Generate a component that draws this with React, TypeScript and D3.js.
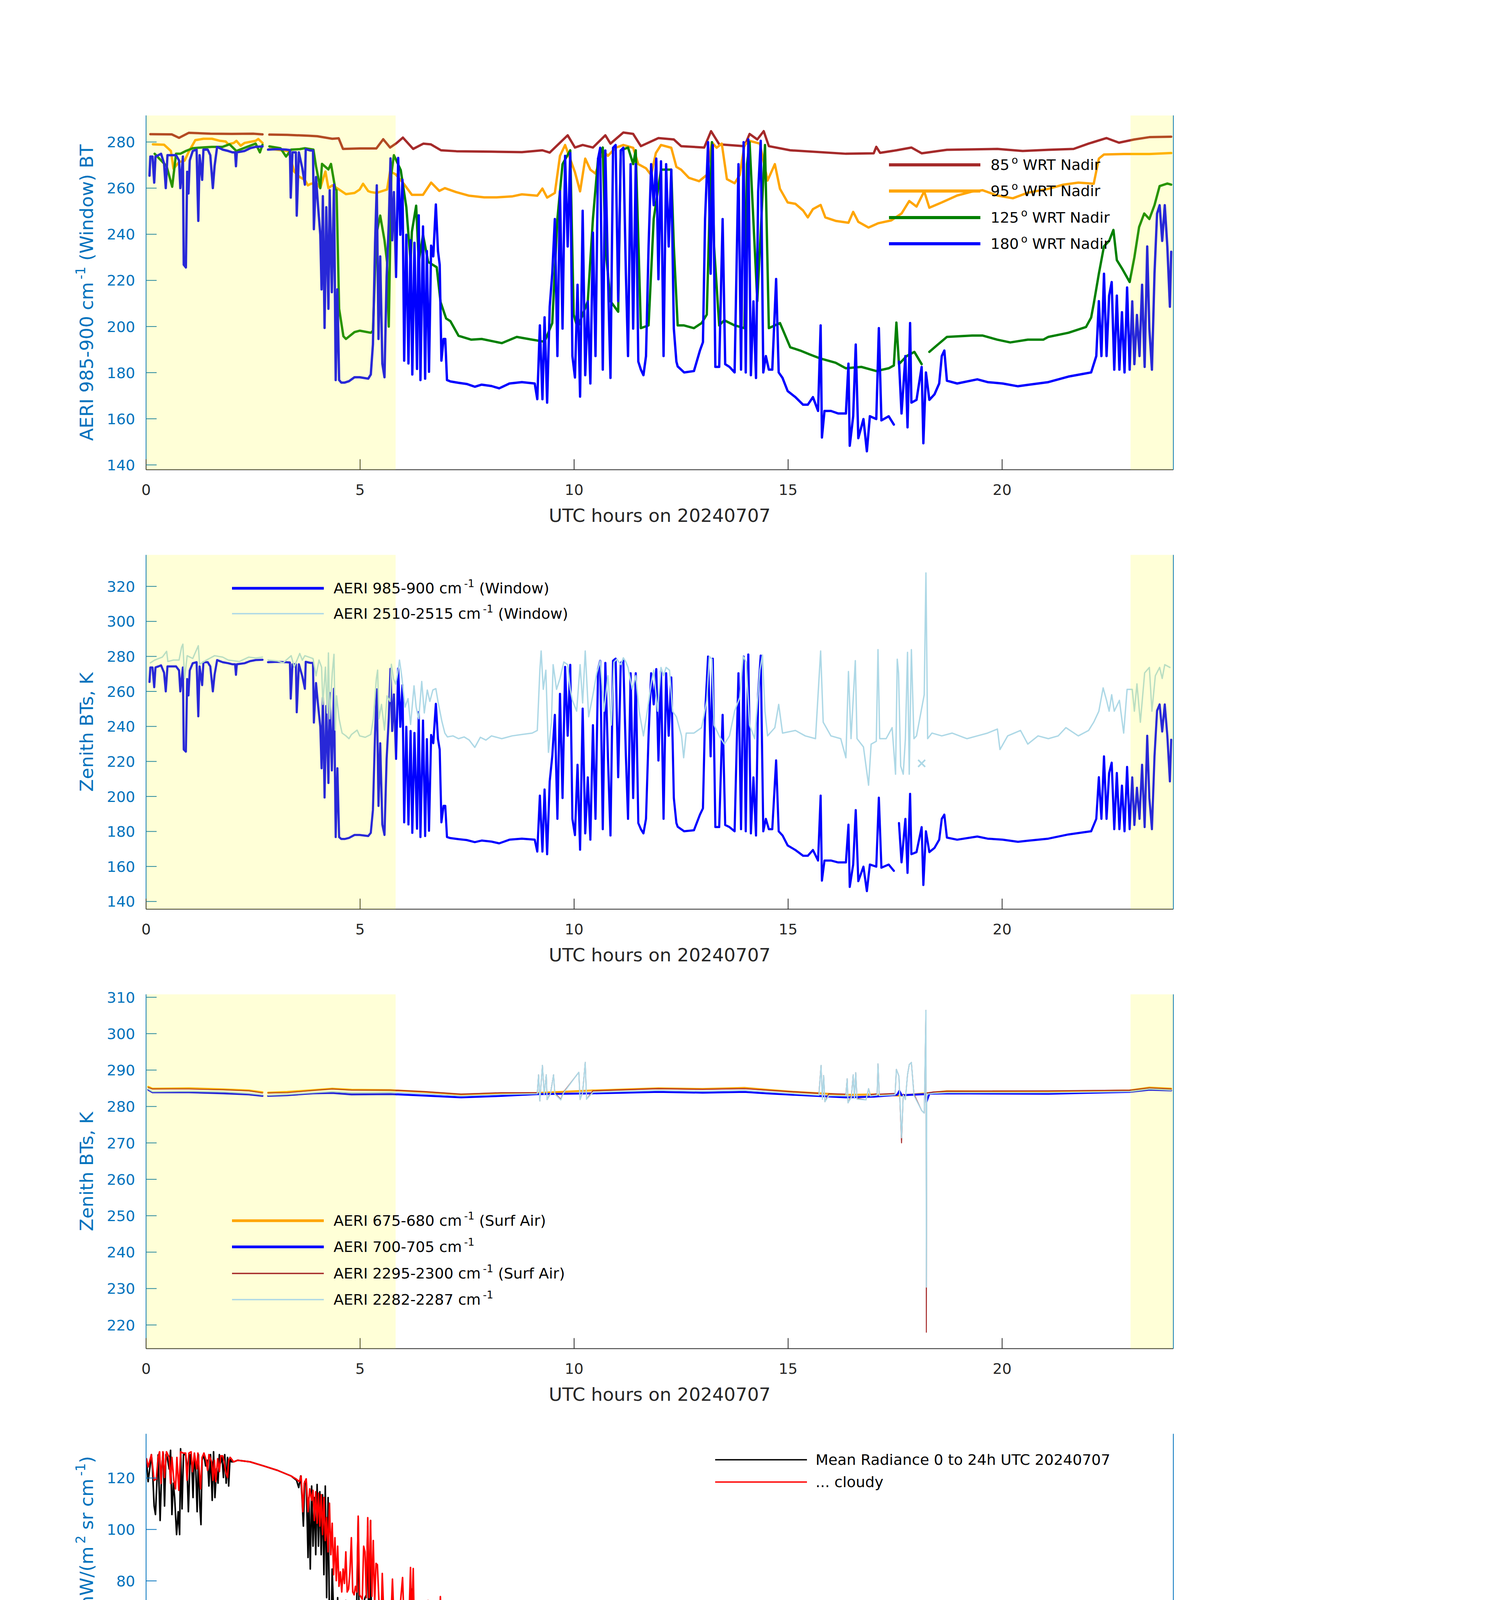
import React from 'react';
import * as d3 from 'd3';

type P = [number, number];
const G = NaN;

// ---------- Panel 1 : BT at four scan angles (UTC hours, K) ----------
const brown85: P[] = [[0.1,283.4],[0.6,283.3],[0.77,281.8],[1.0,284.0],[1.5,283.6],[2.0,283.5],[2.5,283.6],[2.72,283.3],[2.73,G],[2.88,283.2],[3.3,283.1],[3.8,282.7],[4.0,282.5],[4.35,281.4],[4.5,281.6],[4.6,277.0],[5.0,277.2],[5.38,277.2],[5.54,281.2],[5.7,277.6],[5.85,279.5],[6.0,281.9],[6.24,277.0],[6.48,279.3],[6.65,279.0],[6.89,276.4],[7.25,276.0],[8.07,275.8],[8.78,275.6],[9.26,276.4],[9.43,275.4],[9.85,282.9],[10.02,277.6],[10.2,278.7],[10.44,277.6],[10.73,282.9],[10.85,279.3],[11.15,284.1],[11.38,283.5],[11.56,278.2],[11.97,281.7],[12.33,281.1],[12.5,278.2],[13.04,277.6],[13.2,284.7],[13.39,279.0],[13.98,278.2],[14.1,283.5],[14.28,281.1],[14.43,284.7],[14.55,278.2],[15.05,276.4],[16.35,274.9],[17.0,275.1],[17.06,277.9],[17.15,275.3],[17.53,276.4],[17.88,277.6],[18.12,275.1],[18.71,276.6],[19.89,277.0],[20.48,276.1],[21.08,276.6],[21.67,277.0],[22.02,279.3],[22.44,281.7],[22.73,279.7],[23.09,281.1],[23.44,282.1],[23.95,282.3]];

const orange95: P[] = [[0.16,279.0],[0.42,278.8],[0.58,276.1],[0.64,268.4],[0.77,271.3],[0.9,271.9],[0.99,275.5],[1.15,280.8],[1.34,281.4],[1.54,281.4],[1.73,280.5],[1.86,280.2],[1.92,279.0],[2.05,279.6],[2.11,280.5],[2.21,278.4],[2.3,279.6],[2.56,280.5],[2.62,281.3],[2.72,279.6],[2.73,G],[2.88,277.0],[3.0,276.8],[3.33,276.0],[3.46,267.2],[3.59,264.8],[3.71,263.6],[3.78,261.2],[3.84,261.8],[3.97,262.4],[4.07,260.0],[4.19,267.2],[4.26,260.0],[4.35,261.2],[4.51,259.4],[4.67,257.4],[4.87,257.9],[4.99,259.4],[5.07,261.9],[5.19,258.7],[5.25,258.3],[5.38,257.9],[5.63,259.4],[5.7,267.2],[5.83,266.0],[6.02,261.9],[6.21,257.1],[6.47,257.1],[6.66,262.4],[6.85,258.8],[6.98,260.0],[7.24,258.3],[7.55,256.7],[7.9,256.0],[8.19,256.0],[8.55,256.4],[8.78,257.3],[9.14,256.7],[9.26,259.8],[9.37,255.9],[9.55,257.9],[9.67,274.0],[9.79,278.7],[10.02,266.9],[10.14,258.6],[10.26,272.8],[10.38,268.0],[10.5,266.3],[10.67,276.3],[10.79,274.0],[10.97,277.5],[11.15,278.7],[11.38,277.5],[11.5,270.4],[11.68,268.6],[11.8,265.7],[11.91,275.2],[12.03,278.7],[12.27,277.5],[12.39,269.2],[12.5,268.0],[12.68,264.5],[12.92,263.0],[13.1,265.7],[13.22,279.9],[13.33,277.5],[13.45,279.3],[13.57,263.9],[13.75,262.1],[13.87,265.7],[13.98,278.7],[14.1,280.5],[14.22,279.9],[14.34,279.3],[14.52,263.3],[14.69,270.4],[14.81,259.7],[14.99,253.8],[15.17,253.2],[15.35,250.3],[15.46,247.3],[15.58,250.9],[15.76,252.7],[15.87,247.3],[16.11,245.8],[16.41,245.0],[16.52,249.7],[16.64,245.4],[16.88,242.9],[17.11,244.8],[17.41,246.0],[17.65,249.0],[17.83,254.4],[18.0,252.0],[18.18,258.6],[18.3,251.5],[18.59,253.8],[18.95,256.8],[19.3,258.5],[19.54,259.1],[19.89,256.8],[20.25,255.6],[20.6,258.0],[21.08,259.7],[21.43,261.5],[21.78,262.4],[22.14,261.9],[22.26,272.8],[22.38,274.6],[22.85,274.8],[23.44,274.8],[23.95,275.2]];

const green125: P[] = [[0.2,274.9],[0.48,269.5],[0.61,260.6],[0.7,274.9],[0.8,274.9],[0.93,276.1],[1.09,277.3],[1.28,277.6],[1.54,277.9],[1.79,277.9],[1.95,279.0],[2.11,276.1],[2.43,278.4],[2.56,279.3],[2.66,275.5],[2.72,278.8],[2.73,G],[2.88,278.1],[3.14,277.3],[3.27,273.7],[3.39,276.7],[3.59,276.9],[3.71,277.3],[3.91,276.7],[3.97,269.5],[4.07,260.0],[4.11,270.5],[4.26,268.1],[4.32,270.5],[4.42,259.7],[4.45,259.1],[4.51,207.7],[4.61,195.8],[4.67,194.6],[4.87,197.6],[4.99,198.2],[5.25,197.3],[5.3,198.2],[5.38,239.8],[5.47,248.1],[5.57,237.4],[5.63,228.0],[5.67,200.0],[5.73,266.0],[5.79,274.3],[5.95,267.8],[6.08,251.8],[6.18,228.0],[6.21,241.1],[6.31,252.4],[6.37,228.0],[6.47,239.8],[6.59,228.0],[6.79,225.7],[6.88,210.6],[7.01,203.5],[7.11,202.3],[7.3,196.0],[7.6,194.3],[7.84,194.6],[8.31,192.8],[8.66,195.5],[9.02,194.3],[9.31,193.4],[9.49,201.5],[9.61,246.7],[9.73,270.4],[9.91,276.4],[9.99,205.2],[10.08,199.3],[10.32,211.0],[10.44,246.7],[10.56,272.8],[10.67,277.6],[10.73,234.7],[10.85,211.0],[11.03,206.4],[11.09,276.4],[11.26,277.6],[11.38,270.4],[11.44,276.4],[11.56,199.3],[11.74,200.5],[11.86,246.7],[12.03,268.0],[12.27,268.0],[12.33,234.7],[12.42,200.5],[12.56,200.5],[12.8,199.3],[12.98,201.5],[13.1,205.2],[13.16,246.7],[13.22,279.9],[13.27,234.7],[13.39,200.5],[13.51,202.7],[13.75,200.5],[13.98,199.3],[14.04,270.4],[14.1,279.9],[14.28,211.0],[14.46,278.7],[14.55,199.3],[14.81,201.5],[15.05,191.0],[15.28,189.6],[15.52,187.8],[15.76,186.1],[16.11,184.3],[16.35,181.9],[16.71,182.5],[17.06,180.7],[17.35,181.9],[17.47,183.1],[17.53,201.7],[17.59,183.7],[17.77,187.2],[17.95,189.0],[18.12,183.7],[18.13,G],[18.3,189.0],[18.48,191.9],[18.71,195.5],[19.3,196.1],[19.54,196.1],[19.89,194.3],[20.19,193.1],[20.6,194.3],[20.96,194.3],[21.08,195.5],[21.55,197.3],[21.96,199.8],[22.08,203.9],[22.14,209.8],[22.26,222.9],[22.38,234.8],[22.5,237.1],[22.6,241.9],[22.68,228.8],[22.8,225.2],[22.98,219.3],[23.09,230.0],[23.2,243.1],[23.32,249.0],[23.44,246.6],[23.56,252.6],[23.68,260.9],[23.86,262.0],[23.95,261.5]];

// zenith (180 deg) window BT, shared by panels 1 and 2
const blueWindow: P[] = [[0.08,265.4],[0.1,273.7],[0.15,273.7],[0.19,262.4],[0.22,273.7],[0.29,274.3],[0.35,274.9],[0.42,270.7],[0.46,260.0],[0.5,274.3],[0.58,274.3],[0.7,274.3],[0.77,272.0],[0.8,260.0],[0.86,273.7],[0.88,226.8],[0.93,225.6],[0.96,267.1],[0.99,257.7],[1.02,272.0],[1.09,276.1],[1.18,276.7],[1.22,245.8],[1.25,274.3],[1.31,263.6],[1.34,276.7],[1.44,276.7],[1.5,274.3],[1.56,260.0],[1.6,269.5],[1.66,277.9],[1.79,276.7],[1.92,276.1],[2.02,275.5],[2.08,275.5],[2.1,269.5],[2.12,275.5],[2.3,276.1],[2.43,277.3],[2.56,277.9],[2.72,278.1],[2.73,G],[2.85,276.7],[3.07,276.9],[3.27,276.7],[3.36,276.5],[3.38,255.9],[3.42,275.5],[3.5,275.5],[3.52,248.1],[3.57,275.5],[3.65,268.6],[3.71,261.5],[3.73,276.9],[3.84,276.3],[3.9,276.3],[3.92,242.2],[3.97,264.8],[4.02,251.7],[4.07,239.8],[4.1,216.1],[4.13,256.5],[4.17,199.4],[4.21,251.7],[4.26,207.7],[4.29,259.1],[4.34,214.9],[4.39,261.5],[4.43,176.8],[4.47,216.1],[4.51,176.8],[4.56,175.7],[4.64,175.7],[4.74,176.3],[4.87,178.0],[4.99,178.0],[5.19,177.4],[5.25,179.2],[5.3,192.3],[5.35,236.3],[5.39,261.2],[5.43,194.6],[5.47,230.4],[5.52,183.9],[5.57,178.0],[5.62,221.5],[5.67,244.6],[5.71,272.9],[5.75,237.4],[5.79,258.3],[5.84,221.5],[5.89,273.1],[5.94,239.8],[5.99,263.6],[6.03,185.2],[6.08,239.8],[6.13,184.0],[6.18,237.4],[6.22,179.2],[6.27,236.3],[6.33,181.6],[6.37,248.2],[6.41,176.8],[6.47,243.4],[6.52,177.4],[6.56,232.7],[6.61,180.4],[6.66,235.1],[6.71,230.4],[6.77,252.9],[6.82,232.7],[6.86,226.8],[6.9,185.2],[6.95,194.6],[6.99,194.6],[7.03,176.8],[7.11,176.2],[7.3,175.6],[7.49,175.1],[7.68,173.9],[7.84,174.8],[8.07,174.2],[8.25,173.2],[8.49,175.3],[8.78,175.9],[9.08,175.3],[9.14,168.5],[9.2,200.5],[9.26,168.5],[9.31,204.0],[9.37,167.0],[9.43,208.6],[9.49,223.0],[9.55,246.6],[9.61,187.2],[9.67,258.6],[9.73,199.1],[9.79,274.0],[9.85,234.7],[9.91,275.2],[9.96,187.2],[10.02,177.9],[10.08,218.1],[10.14,169.6],[10.2,250.2],[10.26,178.9],[10.32,210.9],[10.38,175.3],[10.44,240.7],[10.5,187.2],[10.56,272.8],[10.61,277.5],[10.67,181.3],[10.73,276.3],[10.79,222.9],[10.85,177.7],[10.91,277.5],[10.97,278.7],[11.03,211.0],[11.09,276.3],[11.15,277.5],[11.21,222.9],[11.26,187.2],[11.32,270.4],[11.38,199.1],[11.44,270.4],[11.5,184.8],[11.56,181.3],[11.62,178.9],[11.68,187.2],[11.74,234.7],[11.8,270.4],[11.86,252.6],[11.92,272.8],[11.97,220.5],[12.03,271.6],[12.09,187.2],[12.15,270.4],[12.21,234.7],[12.27,268.0],[12.33,199.1],[12.39,184.8],[12.42,182.7],[12.57,180.1],[12.8,180.7],[12.94,189.6],[13.01,193.2],[13.06,246.6],[13.13,279.9],[13.19,222.9],[13.24,278.7],[13.3,182.5],[13.39,182.5],[13.47,246.6],[13.53,183.7],[13.63,182.5],[13.75,180.1],[13.84,270.4],[13.9,181.3],[13.96,279.9],[14.01,180.1],[14.07,281.1],[14.13,178.9],[14.19,210.9],[14.25,177.7],[14.3,258.5],[14.36,280.5],[14.42,180.1],[14.48,187.2],[14.55,181.3],[14.63,181.3],[14.72,220.6],[14.78,180.1],[14.87,177.7],[14.99,172.0],[15.17,169.4],[15.35,166.1],[15.46,166.1],[15.58,169.4],[15.7,163.4],[15.76,200.5],[15.79,151.9],[15.85,163.4],[16.0,163.4],[16.17,162.3],[16.35,162.3],[16.41,183.9],[16.44,148.3],[16.52,161.1],[16.58,192.2],[16.64,151.6],[16.76,159.9],[16.84,145.9],[16.91,161.1],[17.06,159.9],[17.12,199.3],[17.18,159.3],[17.35,161.1],[17.47,157.5],[17.5,G],[17.59,184.8],[17.65,162.3],[17.74,187.2],[17.79,156.3],[17.85,201.5],[17.88,167.0],[18.0,168.2],[18.12,182.5],[18.16,149.4],[18.22,180.1],[18.3,168.2],[18.42,170.6],[18.53,175.3],[18.59,187.2],[18.65,189.6],[18.71,176.5],[18.95,175.3],[19.42,177.1],[19.66,175.9],[20.01,175.3],[20.37,174.1],[20.6,174.7],[21.08,175.9],[21.55,178.3],[21.9,179.5],[22.08,180.1],[22.2,187.2],[22.26,211.0],[22.32,187.2],[22.38,222.9],[22.44,187.2],[22.5,213.4],[22.56,219.3],[22.62,181.3],[22.68,213.4],[22.74,181.3],[22.8,206.2],[22.86,180.1],[22.92,216.9],[22.98,181.3],[23.04,210.9],[23.09,183.7],[23.15,205.0],[23.21,187.2],[23.27,218.1],[23.33,182.5],[23.39,234.7],[23.44,199.1],[23.5,181.3],[23.56,222.9],[23.62,249.0],[23.68,252.6],[23.74,237.1],[23.8,252.6],[23.86,234.7],[23.92,208.6],[23.95,232.4]];

// ---------- Panel 2 : 2510-2515 window ----------
const lightWindow: P[] = [[0.1,276.3],[0.2,277.9],[0.38,279.6],[0.48,282.9],[0.51,277.1],[0.64,277.9],[0.77,277.9],[0.83,285.3],[0.86,287.0],[0.9,267.3],[0.96,280.4],[1.09,278.8],[1.22,286.1],[1.25,275.5],[1.41,277.9],[1.6,280.4],[1.79,279.6],[1.92,277.9],[2.18,277.1],[2.4,279.6],[2.56,279.1],[2.72,279.6],[2.73,G],[2.85,277.9],[3.07,277.4],[3.2,276.3],[3.39,280.4],[3.46,273.9],[3.59,281.7],[3.65,277.9],[3.71,280.4],[3.9,278.8],[3.97,268.9],[4.04,277.9],[4.1,273.9],[4.13,252.6],[4.19,273.9],[4.23,247.7],[4.26,282.0],[4.29,244.4],[4.35,270.5],[4.39,281.2],[4.42,237.9],[4.45,257.5],[4.51,244.4],[4.55,239.5],[4.58,236.2],[4.67,234.6],[4.74,233.0],[4.8,235.4],[4.93,237.9],[4.99,234.6],[5.12,233.8],[5.25,235.4],[5.31,244.4],[5.38,267.3],[5.41,272.2],[5.44,244.4],[5.5,252.6],[5.57,237.9],[5.63,257.5],[5.7,254.3],[5.73,275.5],[5.78,267.3],[5.83,264.1],[5.88,270.5],[5.92,277.9],[5.98,267.3],[6.05,251.0],[6.12,255.9],[6.18,241.1],[6.26,263.2],[6.31,251.0],[6.37,244.4],[6.44,265.7],[6.5,247.7],[6.57,260.8],[6.63,254.3],[6.7,260.8],[6.77,261.6],[6.82,254.3],[6.91,243.0],[6.98,236.2],[7.04,234.0],[7.17,234.6],[7.3,233.0],[7.43,234.0],[7.55,232.2],[7.68,228.0],[7.81,233.8],[7.94,232.2],[8.07,234.6],[8.31,233.0],[8.55,234.6],[8.78,235.4],[9.02,236.2],[9.14,237.7],[9.2,272.1],[9.23,283.1],[9.28,261.2],[9.34,272.1],[9.4,225.2],[9.47,242.4],[9.51,275.3],[9.59,261.2],[9.67,267.4],[9.76,276.8],[9.85,275.3],[9.91,261.2],[9.96,254.9],[10.06,248.7],[10.14,275.3],[10.2,253.4],[10.26,283.1],[10.34,245.5],[10.44,258.1],[10.53,270.6],[10.61,277.6],[10.7,248.7],[10.79,269.0],[10.87,240.8],[10.93,276.8],[11.0,278.4],[11.09,275.3],[11.15,279.2],[11.21,276.8],[11.26,273.7],[11.36,261.2],[11.44,269.0],[11.52,248.7],[11.62,234.6],[11.71,248.7],[11.8,264.3],[11.86,272.1],[11.95,248.7],[12.03,273.7],[12.09,269.0],[12.15,273.7],[12.23,272.1],[12.3,248.7],[12.39,245.5],[12.51,234.6],[12.56,222.1],[12.62,236.2],[12.8,236.2],[12.98,239.3],[13.1,254.9],[13.16,280.0],[13.22,278.4],[13.27,240.8],[13.39,234.6],[13.51,229.9],[13.63,234.6],[13.75,248.7],[13.87,256.5],[13.95,280.0],[14.02,276.8],[14.1,240.8],[14.22,233.0],[14.34,272.1],[14.4,280.8],[14.46,248.7],[14.52,234.6],[14.69,239.3],[14.78,252.6],[14.87,236.2],[15.17,237.7],[15.4,234.6],[15.64,233.0],[15.76,283.1],[15.82,242.4],[16.0,234.6],[16.23,233.0],[16.35,222.1],[16.41,271.4],[16.47,233.0],[16.57,277.6],[16.61,233.0],[16.76,228.3],[16.88,206.4],[16.94,229.9],[17.06,231.5],[17.1,283.9],[17.14,233.0],[17.29,233.0],[17.43,239.3],[17.51,212.7],[17.55,278.4],[17.58,270.6],[17.63,217.4],[17.69,212.7],[17.74,233.0],[17.79,282.3],[17.83,212.7],[17.88,283.9],[17.94,233.0],[18.0,234.6],[18.18,258.1],[18.22,327.7],[18.26,233.0],[18.36,236.2],[18.59,234.6],[18.83,236.2],[19.18,233.0],[19.42,234.6],[19.66,236.2],[19.89,238.5],[19.95,226.8],[20.13,234.6],[20.43,237.7],[20.6,229.9],[20.84,234.6],[21.08,233.0],[21.31,234.6],[21.49,239.3],[21.78,234.6],[22.02,237.7],[22.14,242.4],[22.26,248.7],[22.36,262.0],[22.44,254.9],[22.5,248.7],[22.56,258.1],[22.62,248.7],[22.74,254.9],[22.84,236.2],[22.92,261.2],[23.04,261.2],[23.09,248.7],[23.15,264.3],[23.23,242.4],[23.33,270.6],[23.44,273.7],[23.5,248.7],[23.58,269.0],[23.68,273.7],[23.74,267.4],[23.8,275.3],[23.92,273.7]];
const lightWindowMarker: P[] = [[18.12,218.9]];

// ---------- Panel 3 : surface-air channels ----------
const orange675: P[] = [[0.05,285.4],[0.15,284.9],[1.0,285.0],[1.8,284.7],[2.4,284.4],[2.72,283.9],[2.73,G],[2.85,283.8],[3.3,284.0],[3.9,284.5],[4.35,284.9],[4.8,284.6],[5.71,284.5],[6.5,284.0],[7.36,283.3],[8.3,283.6],[9.14,283.7],[10.44,284.4],[11.97,285.0],[13.0,284.8],[13.98,285.1],[14.5,284.6],[15.17,284.0],[16.35,283.2],[17.0,283.3],[17.6,283.0],[18.22,283.6],[18.71,284.2],[21.08,284.1],[22.98,284.4],[23.44,285.2],[23.95,284.9]];
const blue700: P[] = [[0.05,284.6],[0.15,283.9],[1.0,283.9],[1.8,283.6],[2.4,283.3],[2.72,282.9],[2.73,G],[2.85,282.9],[3.3,283.1],[3.9,283.6],[4.35,283.7],[4.8,283.3],[5.71,283.4],[6.5,283.0],[7.36,282.5],[8.3,282.9],[9.14,283.4],[10.44,283.6],[11.97,284.0],[13.0,283.8],[13.98,284.0],[14.5,283.6],[15.17,283.2],[16.35,282.5],[17.0,282.7],[17.55,283.2],[17.6,284.3],[17.65,283.1],[18.22,283.4],[18.23,281.2],[18.3,283.5],[18.71,283.6],[21.08,283.5],[22.98,284.0],[23.44,284.6],[23.95,284.4]];
const brown2295: P[] = [[0.05,285.2],[0.15,284.8],[1.0,284.8],[1.8,284.6],[2.4,284.3],[2.72,283.7],[2.73,G],[2.85,283.7],[3.3,283.8],[3.9,284.4],[4.35,284.8],[4.8,284.5],[5.5,284.5],[5.71,284.5],[6.5,284.1],[7.36,283.4],[8.3,283.8],[9.14,283.8],[9.17,288.7],[9.2,281.5],[9.26,291.3],[9.3,283.5],[9.35,288.7],[9.37,281.9],[9.45,283.7],[9.52,288.7],[9.55,283.6],[9.69,282.0],[9.75,283.9],[10.11,289.4],[10.14,281.9],[10.2,284.0],[10.26,292.1],[10.29,282.0],[10.44,284.3],[11.97,284.9],[13.0,284.7],[13.98,284.9],[14.5,284.5],[15.17,284.0],[15.72,283.6],[15.77,291.3],[15.8,282.0],[15.83,288.5],[15.86,281.3],[15.95,283.5],[16.35,283.4],[16.38,287.6],[16.4,281.0],[16.48,283.0],[16.52,288.7],[16.55,282.5],[16.58,289.3],[16.61,282.2],[16.82,281.8],[16.88,284.9],[16.92,283.2],[17.08,283.5],[17.1,291.7],[17.13,283.4],[17.5,283.6],[17.53,290.2],[17.59,288.3],[17.65,270.0],[17.69,283.4],[17.74,281.9],[17.79,288.7],[17.83,291.5],[17.88,292.1],[17.94,283.4],[18.12,278.9],[18.18,278.2],[18.22,306.4],[18.23,218.0],[18.24,283.7],[18.4,284.0],[18.71,284.2],[21.08,284.3],[22.98,284.5],[23.44,285.1],[23.95,284.8]];
const light2282: P[] = [[0.05,284.8],[0.15,284.1],[1.0,284.2],[1.8,284.0],[2.4,283.6],[2.72,283.2],[2.73,G],[2.85,283.1],[3.3,283.3],[3.9,283.8],[4.35,284.1],[4.8,283.8],[5.71,283.9],[6.5,283.5],[7.36,282.9],[8.3,283.3],[9.14,283.5],[9.17,288.7],[9.2,281.5],[9.26,291.3],[9.3,283.3],[9.35,288.7],[9.37,281.9],[9.45,283.5],[9.52,288.7],[9.55,283.4],[9.69,281.8],[9.75,283.7],[10.11,289.4],[10.14,281.9],[10.2,283.8],[10.26,292.1],[10.29,282.0],[10.44,283.9],[11.97,284.4],[13.0,284.2],[13.98,284.4],[14.5,284.0],[15.17,283.5],[15.72,283.1],[15.77,291.3],[15.8,282.0],[15.83,288.5],[15.86,281.3],[15.95,283.0],[16.35,282.9],[16.38,287.6],[16.4,281.0],[16.48,282.6],[16.52,288.7],[16.55,282.2],[16.58,289.3],[16.61,282.0],[16.82,281.8],[16.88,284.9],[16.92,282.9],[17.08,283.1],[17.1,291.7],[17.13,283.0],[17.5,283.2],[17.53,290.2],[17.59,288.3],[17.65,271.4],[17.69,283.1],[17.74,281.9],[17.79,288.7],[17.83,291.5],[17.88,292.1],[17.94,283.0],[18.12,278.9],[18.18,278.2],[18.22,306.4],[18.23,230.4],[18.24,283.4],[18.4,283.6],[18.71,283.8],[21.08,283.8],[22.98,284.1],[23.44,284.8],[23.95,284.5]];

// ---------- Panel 4 : mean radiance 520-1800 cm-1 ----------
const meanLW: P[] = [[520.5,126.9],[522.5,118.6],[525,124.7],[526.6,129.1],[528,123.5],[530,109.1],[531.7,105.8],[533.4,117.9],[535,129.0],[537.5,103.5],[539.6,124.7],[541.3,129.7],[543,109.1],[544.7,129.1],[546.4,128.0],[548.8,123.5],[550.5,130.8],[552.2,105.8],[554,118.0],[555.6,112.4],[558,98.0],[560,106.9],[561.8,98.0],[563,131.4],[564.8,108.0],[566.6,129.1],[569.3,129.1],[571,124.7],[572.7,106.9],[575,129.1],[577,124.7],[578.5,112.4],[580.2,129.1],[582,122.5],[583.6,106.9],[585.3,129.1],[587,109.1],[588.4,101.9],[589.8,126.9],[592,129.1],[594.2,124.7],[596.6,126.9],[598.3,116.9],[600.3,129.1],[602.4,111.3],[604.1,130.2],[605.8,112.4],[607.8,123.6],[609.6,118.0],[611.3,129.1],[612.6,125.8],[614.7,128.0],[616.4,120.2],[618,129.1],[619.8,118.0],[621.5,128.0],[622.9,116.9],[624.6,128.0],[626.3,126.3],[629,126.3],[634,126.9],[649.5,126.3],[666.6,124.7],[683.6,123.0],[700.7,120.8],[707.5,119.1],[710.2,116.3],[712.6,120.8],[714.3,112.4],[716,101.3],[717.7,118.6],[719.5,119.1],[721.8,89.1],[722.9,112.4],[724.6,84.6],[726.3,116.9],[728,93.5],[729.7,112.4],[731.4,90.2],[733.1,117.5],[734.8,93.5],[736.5,114.7],[738.2,90.2],[739.9,113.5],[741.6,82.4],[743.3,116.9],[745,73.5],[746.8,112.4],[748.5,64.6],[750.2,53.4],[751.9,84.6],[753.6,67.9],[755.3,51.2],[757,44.5],[758.7,73.5],[760.4,42.3],[762.1,49.0],[763.8,40.1],[765.5,53.4],[767.2,42.3],[768.9,72.4],[770.6,42.3],[772.3,47.9],[774,39.0],[775.8,55.3],[777.5,39.0],[779.5,60.0],[780.9,40.1],[782.6,73.5],[784.3,104.6],[786,40.1],[787.7,38.4],[789.4,41.2],[791.1,71.3],[792.8,73.5],[794.5,74.6],[796.2,101.3],[797.9,43.4],[799.7,103.5],[801.4,40.1],[803.1,36.7],[804.8,70.1],[806.5,36.7],[808.2,65.7],[810.6,35.6],[813.3,37.8],[814.3,63.5],[816,36.7],[820.1,35.0],[823.5,34.0],[825.3,46.8],[827,61.2],[828.7,34.5],[833.8,33.4],[835.5,36.7],[837.2,33.4],[839.6,63.5],[841.3,33.4],[847.4,31.7],[849.1,47.9],[850.8,63.5],[851.9,76.9],[853.6,62.4],[854.9,27.8],[857.7,30.0],[861.1,32.3],[865.2,50.1],[866.9,30.0],[871.3,52.9],[873,29.5],[878.2,48.4],[879.9,27.8],[883.3,40.1],[885,27.2],[886.7,55.7],[888.4,26.1],[891.8,31.2],[895.2,26.7],[898.6,26.1],[905.5,28.3],[907.2,23.4],[908.9,51.8],[910.6,25.6],[914,33.4],[915.7,25.0],[918.1,30.0],[919.1,23.9],[921.5,42.3],[922.5,25.6],[924.9,34.5],[926.6,24.5],[932.2,24.8],[936.2,25.6],[944.7,24.5],[947.9,42.3],[950,23.7],[962,22.7],[969.5,22.7],[975,30.3],[977,21.6],[984.4,20.5],[991.8,19.4],[999.3,21.6],[1006.7,22.7],[1010.4,30.3],[1014.2,46.6],[1016,24.8],[1021.6,25.9],[1029,33.5],[1032.8,27.0],[1038.4,29.2],[1041,32.5],[1043.2,19.4],[1045.8,24.8],[1049.5,33.5],[1053.3,31.4],[1057,33.5],[1060.7,29.2],[1064.4,27.0],[1066.3,53.2],[1068,16.1],[1071.8,15.0],[1074.5,33.5],[1076,15.0],[1084.9,13.9],[1091.2,45.5],[1093,13.9],[1101.7,43.4],[1103.5,12.8],[1106.1,43.4],[1108,12.8],[1111.7,44.4],[1113.3,13.9],[1121.4,31.4],[1123,13.9],[1135.9,33.5],[1137.5,13.9],[1144.5,12.8],[1150.1,44.4],[1152,12.8],[1165,44.4],[1167,12.8],[1174.3,44.4],[1176,11.8],[1186.6,49.9],[1188,11.8],[1197.8,11.8],[1210.9,44.4],[1212.5,13.9],[1218.3,41.2],[1221,18.3],[1224.6,45.5],[1226.5,11.8],[1230.9,10.7],[1235.7,27.0],[1239.4,18.3],[1244,41.2],[1246,16.1],[1250.6,22.7],[1256.2,18.3],[1260,40.1],[1263.7,24.8],[1267.4,37.9],[1271.1,37.9],[1274.8,22.7],[1276.7,27.0],[1280.4,36.8],[1284.2,21.6],[1287.8,36.8],[1291.5,22.7],[1295.3,33.5],[1300.9,34.6],[1304.6,33.5],[1310.2,34.0],[1319.6,33.5],[1325.1,21.6],[1329,22.7],[1333.5,31.4],[1338.2,31.4],[1343,30.0],[1351.2,30.3],[1361,29.5],[1374,28.6],[1383,27.5],[1400,26.2],[1417,25.0],[1419.6,19.9],[1421,24.8],[1437,23.8],[1456.5,22.5],[1456.9,19.4],[1458,22.4],[1469.6,21.6],[1472,19.4],[1474,21.4],[1506.5,18.8],[1507,16.2],[1509,18.7],[1522,17.9],[1522.5,15.2],[1524,17.8],[1539,17.2],[1540,28.6],[1541,17.1],[1556.5,16.3],[1559,12.0],[1561,16.1],[1576,15.3],[1577,24.2],[1578,15.2],[1600,13.5],[1616.5,12.7],[1635,11.8],[1636,9.4],[1638,11.7],[1652,11.2],[1652.5,23.2],[1653,5.0],[1654,11.0],[1669.5,10.1],[1670,7.2],[1671,10.0],[1684.8,9.5],[1685,5.5],[1686,9.4],[1699,9.0],[1717,8.3],[1717.5,26.0],[1718,8.2],[1732.6,7.6],[1733,5.0],[1734,7.6],[1752,6.9],[1774,6.0],[1791,5.4],[1791.5,3.6],[1792,5.4],[1800,5.4]];

const cloudyLW: P[] = [[520.5,127.5],[522.5,124.3],[526.6,129.1],[530,119.1],[532.7,119.6],[535,128.0],[536.8,130.2],[538.6,117.9],[541,130.2],[543,120.2],[545.4,130.2],[548.8,128.0],[550.5,117.9],[552.2,128.0],[554.6,119.1],[556.7,115.8],[558.4,128.0],[560.8,115.2],[563.1,130.2],[565.9,129.7],[569.3,129.7],[571,119.1],[573.4,129.7],[576.1,130.2],[577.8,122.5],[580.2,129.7],[583,123.6],[584.6,129.7],[588,115.8],[589.8,128.0],[592.1,129.7],[594.9,126.9],[596.6,123.0],[598.3,129.1],[601.7,126.3],[603.4,119.1],[605.1,126.9],[606.8,118.6],[609.2,127.5],[611.3,122.5],[613,128.6],[615.4,128.6],[617.4,126.3],[619.5,121.9],[621.5,120.2],[622.9,126.9],[624.9,128.0],[629,126.3],[634,126.9],[649.5,126.3],[666.6,124.7],[683.6,123.0],[700.7,120.8],[707.5,119.5],[710.9,118.6],[713.2,120.8],[715.4,106.9],[717.1,118.0],[719.5,119.7],[721.8,106.9],[723.9,115.8],[726.3,111.3],[728,115.2],[729.7,103.5],[731.4,114.7],[733.1,102.4],[734.8,114.1],[736.5,101.3],[738.2,113.5],[739.9,98.0],[741.6,112.4],[743.3,95.7],[745,104.6],[746.8,91.3],[748.5,110.2],[750.2,90.2],[751.9,102.4],[753.6,82.4],[755.3,96.8],[757,80.1],[758.7,93.5],[760.4,77.9],[762.1,83.5],[763.8,75.7],[765.5,84.6],[767.2,79.0],[768.9,91.3],[770.6,75.7],[772.3,76.8],[774,83.5],[775.8,96.8],[777.5,75.7],[779.2,74.6],[780.9,77.9],[782.6,75.7],[784.3,105.2],[786,74.6],[789.4,72.9],[791.1,93.5],[792.8,91.3],[794.5,73.5],[796.2,104.6],[797.9,73.5],[799.7,103.5],[801.4,74.0],[803.1,95.7],[804.8,71.3],[806.5,86.8],[808.2,86.3],[810.6,69.0],[813.3,69.5],[814.3,82.9],[816,68.5],[820.1,67.9],[825.3,66.8],[827,80.7],[828.7,66.3],[835.5,66.3],[839.6,81.3],[841.3,65.1],[847.4,63.5],[849.5,85.2],[850.8,63.5],[852.9,84.8],[854.2,61.2],[859.3,61.0],[865.2,71.6],[866.9,60.6],[871.3,72.4],[873,59.5],[878.2,69.4],[879.9,57.9],[883.3,64.6],[885,57.3],[886.7,73.9],[888.4,56.8],[898.6,55.7],[907.2,54.6],[908.9,68.4],[910.6,53.4],[918.1,54.0],[921.5,61.8],[922.5,52.4],[924.9,57.3],[926.6,51.8],[936.2,50.7],[944.7,49.0],[947.1,49.9],[948.2,59.7],[949.5,48.8],[958.3,47.7],[962,46.6],[969.5,46.6],[973.2,45.5],[976.2,51.0],[978.8,44.4],[990,42.7],[999.3,42.3],[1008.6,42.7],[1010.4,46.6],[1014.2,55.3],[1016,44.4],[1021.6,44.4],[1027.2,44.4],[1029,48.8],[1032.8,44.4],[1038.4,43.4],[1041,40.1],[1043.2,39.0],[1045.8,44.4],[1051.4,45.5],[1055.1,43.4],[1058.8,44.4],[1060.7,40.1],[1063.3,37.9],[1065.5,54.2],[1067.5,35.7],[1073.7,35.7],[1074.5,45.1],[1075.8,34.6],[1084.9,33.5],[1091.2,45.5],[1093,32.5],[1099.8,33.5],[1101.7,44.0],[1103.5,32.5],[1106.1,44.4],[1108,32.5],[1111.7,46.6],[1113.3,31.4],[1121.4,47.7],[1123,31.4],[1133.3,30.3],[1135.9,52.1],[1137.5,30.3],[1144.5,29.2],[1150.1,41.2],[1152,28.1],[1165,44.4],[1167,28.1],[1174.3,49.9],[1176,28.1],[1186.6,49.9],[1188,27.0],[1197.8,44.9],[1199.5,27.0],[1204.1,25.9],[1210.9,44.4],[1212.5,25.9],[1218.3,41.2],[1221,27.0],[1224.6,44.4],[1226.5,27.0],[1230.2,23.8],[1237.6,32.5],[1241.3,24.8],[1244,41.2],[1246,27.0],[1250.6,29.2],[1253.2,33.5],[1256.2,31.4],[1260,39.0],[1263.7,33.0],[1267.4,39.0],[1271.1,39.0],[1272,30.0],[1276.7,31.4],[1280.4,37.4],[1284.2,27.0],[1287.8,36.8],[1291.5,29.2],[1295.3,33.5],[1300.9,35.7],[1304.6,33.5],[1310.2,34.6],[1319.6,34.6],[1325.1,28.1],[1329,32.0],[1332.6,29.0],[1338.2,31.4],[1343.8,30.3],[1351.2,31.4],[1361,30.6],[1374,29.5],[1383,28.6],[1400,26.9],[1417,25.8],[1437,25.0],[1437.5,29.5],[1438,24.9],[1469.6,22.1],[1513,18.9],[1539,17.3],[1540,27.4],[1541,17.2],[1556.5,16.2],[1576,15.2],[1577,24.2],[1578,15.1],[1600,14.1],[1616.5,13.5],[1617,19.4],[1617.5,13.4],[1643.5,12.5],[1652,12.2],[1652.5,22.1],[1653,12.0],[1687,10.8],[1695,10.6],[1695.5,18.5],[1696,10.5],[1699,10.4],[1699.5,16.9],[1700,10.3],[1717,9.7],[1717.5,16.3],[1718,9.6],[1752,8.4],[1774,7.9],[1800,7.2]];

// ---------- Panel 5 : mean radiance 1800-3020 cm-1 ----------
const meanSW: P[] = [[1800.7,7.8],[1801,7.55],[1803.3,7.7],[1804.9,7.35],[1806.5,7.5],[1808,7.7],[1809.7,7.35],[1811.4,7.45],[1813,7.35],[1814.6,7.0],[1816.3,6.9],[1817.9,7.2],[1819.5,6.75],[1821.1,6.98],[1822.8,7.1],[1824.4,7.0],[1826,6.97],[1829.3,6.93],[1832.5,6.8],[1834.2,6.7],[1835.8,6.75],[1839,6.58],[1842.3,6.6],[1843.9,6.68],[1845.5,6.5],[1848.8,6.45],[1850.4,6.2],[1852,6.0],[1853.7,6.3],[1855.3,5.6],[1856.9,6.1],[1858.5,6.28],[1860.2,6.1],[1861.8,5.7],[1863.4,6.05],[1866.7,6.12],[1869.9,5.95],[1873.2,5.55],[1874.8,5.15],[1876.4,5.5],[1878,4.68],[1879.7,5.6],[1881.3,4.6],[1882.9,4.8],[1884.6,5.3],[1886.2,5.7],[1887.8,5.3],[1889.4,5.68],[1891.1,5.52],[1892.7,5.3],[1895,5.5],[1896.9,5.0],[1899.2,4.3],[1900.8,3.88],[1902.4,4.9],[1904.1,4.5],[1905.7,5.3],[1907.3,4.6],[1908.9,5.3],[1910.6,5.15],[1912.2,4.85],[1913.8,4.45],[1915.4,4.88],[1918.7,5.12],[1920.3,4.9],[1922,5.0],[1923.6,5.0],[1925.2,4.6],[1926.8,3.72],[1928.5,3.22],[1930.1,3.0],[1931.7,3.4],[1933.3,4.75],[1935,3.6],[1936.6,3.0],[1938.2,3.7],[1939.8,4.4],[1942.1,4.68],[1944.7,4.58],[1946.3,4.6],[1948,3.9],[1949.6,2.85],[1951.2,3.3],[1952.8,2.41],[1955.1,4.5],[1956.7,3.6],[1958.4,2.34],[1960,2.78],[1962,4.17],[1963.6,2.63],[1965.9,4.3],[1967.8,4.1],[1970.7,2.12],[1973,1.68],[1975,1.75],[1976.3,2.56],[1977.6,1.53],[1979.5,1.46],[1981.5,1.75],[1983.7,1.9],[1986.3,2.78],[1988.6,4.03],[1990.2,3.44],[1992.5,3.95],[1995.1,2.56],[1996.7,1.97],[1999,3.88],[2000.6,1.39],[2002.3,1.39],[2004.2,1.24],[2006.5,1.83],[2008.1,2.42],[2009.7,1.39],[2011.4,1.53],[2013,1.24],[2016.3,3.44],[2017.9,3.51],[2019.5,1.83],[2021.1,1.39],[2022.8,1.46],[2024.4,1.31],[2027.6,1.09],[2029.3,1.02],[2031,0.98],[2033.5,2.71],[2035.8,1.09],[2037.4,2.85],[2039,1.09],[2040.7,2.56],[2042,2.34],[2043.9,2.12],[2045.5,0.87],[2047.2,1.61],[2048.8,1.02],[2050.4,0.95],[2052,1.61],[2053.7,1.02],[2056.9,1.17],[2060.2,2.93],[2061.8,0.91],[2064.4,3.0],[2066.7,1.39],[2068.3,0.91],[2071.5,1.39],[2073.2,2.63],[2074.8,1.09],[2077.1,2.56],[2079,0.95],[2081.3,0.73],[2082.9,1.39],[2086.2,1.02],[2089.4,2.71],[2091.1,0.73],[2093.3,1.24],[2095.9,0.73],[2099.2,0.8],[2101.8,0.65],[2104.1,0.69],[2107.3,0.65],[2110.6,0.73],[2114.5,1.53],[2116.1,0.65],[2118.7,0.62],[2122,1.09],[2125.2,0.65],[2128.5,0.87],[2131.7,0.58],[2135,1.24],[2138.2,0.54],[2141.5,0.58],[2144.7,1.17],[2146.3,0.58],[2149.6,0.54],[2152.8,0.95],[2154.5,0.54],[2157.7,0.54],[2161.6,1.09],[2163.2,0.58],[2167.5,0.62],[2174,0.58],[2177.2,0.65],[2180.5,0.95],[2183.7,1.09],[2187,1.17],[2190.2,1.13],[2196.7,1.2],[2200,1.25],[2207,1.3],[2214,1.3],[2221,1.3],[2223,0.95],[2225,1.1],[2228,1.4],[2235.5,1.48],[2242.6,1.46],[2256.7,1.45],[2271,1.38],[2285,1.32],[2299,1.24],[2313.5,1.18],[2327.7,1.12],[2342,1.06],[2356,1.03],[2370,0.98],[2381,0.95],[2386,0.8],[2390,0.57],[2393,0.43],[2398.6,0.36],[2416,0.29],[2434,0.25],[2457,0.21],[2469.5,0.2],[2498,0.15],[2540,0.14],[2600,0.12],[2639,0.14],[2640,0.11],[2664,0.1],[2720,0.12],[2722,0.1],[2800,0.08],[2871,0.05],[2954,0.04],[2996,0.02],[3020,0.05]];

const cloudySW: P[] = [[1800.7,8.28],[1801,7.62],[1803.3,7.76],[1804.9,7.4],[1806.5,7.58],[1808,7.76],[1809.7,7.4],[1811.4,7.51],[1813,7.4],[1814.6,7.1],[1816.3,6.96],[1817.9,7.25],[1819.5,6.81],[1821.1,7.03],[1822.8,7.18],[1824.4,7.07],[1826,7.03],[1829.3,7.0],[1832.5,6.88],[1834.2,6.74],[1835.8,6.81],[1839,6.63],[1842.3,6.66],[1843.9,6.74],[1845.5,6.55],[1848.8,6.52],[1850.4,6.26],[1852,6.08],[1853.7,6.33],[1855.3,5.78],[1856.9,6.15],[1858.5,6.33],[1860.2,6.15],[1861.8,5.78],[1863.4,6.08],[1866.7,6.15],[1869.9,6.0],[1873.2,5.64],[1874.8,5.34],[1876.4,5.64],[1878,4.98],[1879.7,5.71],[1881.3,4.91],[1882.9,4.98],[1884.6,5.34],[1886.2,5.75],[1887.8,5.34],[1889.4,5.71],[1891.1,5.56],[1892.7,5.34],[1895,5.56],[1896.9,5.12],[1899.2,4.61],[1900.8,4.39],[1902.4,5.05],[1904.1,4.68],[1905.7,5.34],[1907.3,4.68],[1908.9,5.34],[1910.6,5.2],[1912.2,4.91],[1913.8,4.54],[1915.4,4.91],[1918.7,5.16],[1920.3,4.94],[1922,5.05],[1923.6,5.05],[1925.2,4.76],[1926.8,4.1],[1928.5,3.66],[1930.1,3.58],[1931.7,4.03],[1933.3,4.79],[1935,4.1],[1936.6,3.58],[1938.2,4.03],[1939.8,4.47],[1942.1,4.72],[1944.7,4.61],[1946.3,4.65],[1948,4.17],[1949.6,3.29],[1951.2,3.66],[1952.8,3.07],[1955.1,4.54],[1956.7,4.03],[1958.4,3.07],[1960,3.0],[1962,4.35],[1963.6,3.29],[1965.9,4.32],[1967.8,4.24],[1970.7,2.85],[1974,2.49],[1976.3,3.88],[1977.6,2.34],[1979.5,2.93],[1981.1,2.42],[1982.8,2.86],[1984.4,2.57],[1986.3,3.29],[1988.6,3.99],[1990.2,3.51],[1992.5,3.95],[1995.1,2.93],[1996.7,2.56],[1999,3.88],[2000.6,2.27],[2002.3,2.2],[2004.2,2.27],[2006.5,2.78],[2008.1,3.59],[2009.1,2.78],[2011.4,2.2],[2013,2.27],[2016.3,3.44],[2017.9,3.51],[2019.5,2.56],[2021.1,1.83],[2022.8,2.71],[2024.4,1.83],[2027,1.91],[2029.3,1.83],[2031.5,1.91],[2033.5,2.74],[2035.8,1.83],[2037.4,2.85],[2039,1.91],[2040.7,3.29],[2042,3.07],[2043.9,2.78],[2045.5,1.75],[2047.2,2.12],[2048.8,1.97],[2050.4,1.75],[2053.7,2.12],[2056.9,2.12],[2060.2,2.96],[2061.8,1.83],[2064.4,3.0],[2066,1.83],[2068.3,1.61],[2071.5,2.12],[2073.2,2.63],[2074.8,1.61],[2077.1,2.6],[2079,1.61],[2081.3,2.71],[2082.9,1.53],[2086.2,1.53],[2089.4,2.78],[2091.1,1.46],[2093.3,2.12],[2095.9,1.46],[2097.6,2.12],[2100.8,2.16],[2102.4,1.39],[2105.7,1.46],[2109,1.39],[2112.2,1.31],[2114.5,2.34],[2116.1,1.31],[2118.7,1.24],[2122,1.39],[2125.2,1.24],[2128.5,1.24],[2131.7,1.17],[2135,1.83],[2136.6,1.97],[2138.2,1.17],[2141.5,1.17],[2144.7,1.9],[2146.3,1.17],[2149.6,1.14],[2152.8,1.61],[2154.5,1.09],[2157.7,1.14],[2161.6,1.75],[2163.2,1.09],[2167.5,1.06],[2174,1.09],[2180.5,1.39],[2183.7,1.24],[2187,1.5],[2190.2,1.31],[2193.5,1.46],[2196.7,1.39],[2200,1.43],[2207,1.38],[2214,1.36],[2221,1.32],[2223,1.0],[2225,1.15],[2228,1.43],[2235.5,1.5],[2242.6,1.47],[2256.7,1.46],[2271,1.39],[2285,1.33],[2299,1.25],[2313.5,1.19],[2327.7,1.13],[2342,1.07],[2356,1.04],[2370,0.99],[2381,0.96],[2386,0.86],[2390,0.67],[2393,0.57],[2398.6,0.53],[2416,0.46],[2434,0.41],[2457,0.36],[2469.5,0.34],[2498,0.30],[2505,0.29],[2540,0.26],[2600,0.23],[2664,0.20],[2720,0.18],[2800,0.12],[2871,0.09],[2954,0.07],[3020,0.07]];

// ---------- axes ----------
const hourTicks = [0, 5, 10, 15, 20];
const wnTicksLW = [600, 800, 1000, 1200, 1400, 1600, 1800];
const wnTicksSW = [1800, 2000, 2200, 2400, 2600, 2800, 3000];
const btTicks1 = [140, 160, 180, 200, 220, 240, 260, 280];
const btTicks2 = [140, 160, 180, 200, 220, 240, 260, 280, 300, 320];
const btTicks3 = [220, 230, 240, 250, 260, 270, 280, 290, 300, 310];
const radTicksLW = [0, 20, 40, 60, 80, 100, 120];
const radTicksSW = [0, 1, 2, 3, 4, 5, 6, 7, 8];
const nightHours: P[] = [[0, 5.83], [23.0, 24]];

const L = 374, R = 3004, H = 907;
const FONT = 'DejaVu Sans, Verdana, sans-serif';
const AXB = '#0072BD';
const AXD = '#262626';
const TICK_FS = 38, LABEL_FS = 47, LEG_FS = 38;

type Seg = { t: string; sup?: boolean };

function Rich({ segs, fs }: { segs: Seg[]; fs: number }) {
  const out: any[] = [];
  let shifted = false;
  segs.forEach((s, i) => {
    if (s.sup) {
      out.push(<tspan key={i} fontSize={fs * 0.7} dx={fs * 0.15} dy={-fs * 0.42}>{s.t}</tspan>);
      shifted = true;
    } else {
      out.push(<tspan key={i} fontSize={fs} dy={shifted ? fs * 0.42 : 0}>{s.t}</tspan>);
      shifted = false;
    }
  });
  return <>{out}</>;
}

type Series = { data: P[]; color: string; width: number };
type LegRow = { y: number; color: string; width: number; segs: Seg[] };

interface PanelProps {
  id: string;
  top: number;
  xDomain: [number, number];
  yDomain: [number, number];
  xTicks: number[];
  yTicks: number[];
  series: Series[];
  markers?: { data: P[]; color: string }[];
  ylabel: Seg[];
  ylabelX: number;
  xlabel: Seg[];
  xlabelDy: number;
  shade?: P[];
  legX: [number, number, number];
  legend: LegRow[];
}

function Panel(p: PanelProps) {
  const bottom = p.top + H;
  const x = d3.scaleLinear().domain(p.xDomain).range([L, R]);
  const y = d3.scaleLinear().domain(p.yDomain).range([bottom, p.top]);
  const line = d3.line<P>().defined(d => !isNaN(d[1])).x(d => x(d[0])).y(d => y(d[1]));
  return (
    <g>
      <clipPath id={p.id}><rect x={L} y={p.top} width={R - L} height={H} /></clipPath>
      <g clipPath={`url(#${p.id})`}>
        {p.series.map((s, i) => (
          <path key={i} d={line(s.data) || ''} fill="none" stroke={s.color} strokeWidth={s.width} strokeLinejoin="round" strokeLinecap="round" />
        ))}
        {(p.markers || []).map((m, i) => m.data.map((d, j) => {
          const cx = x(d[0]), cy = y(d[1]), r = 9;
          return <path key={`${i}-${j}`} d={`M${cx - r},${cy - r}L${cx + r},${cy + r}M${cx - r},${cy + r}L${cx + r},${cy - r}`} stroke={m.color} strokeWidth={4} />;
        }))}
      </g>
      <line x1={L} y1={bottom} x2={R} y2={bottom} stroke={AXD} strokeWidth={2} />
      <line x1={L} y1={p.top} x2={L} y2={bottom} stroke={AXB} strokeWidth={2} />
      <line x1={R} y1={p.top} x2={R} y2={bottom} stroke={AXB} strokeWidth={2} />
      {p.xTicks.map(t => (
        <g key={`x${t}`}>
          <line x1={x(t)} x2={x(t)} y1={bottom} y2={bottom - 27} stroke={AXD} strokeWidth={2} />
          <text x={x(t)} y={bottom + 64} textAnchor="middle" fontSize={TICK_FS} fill={AXD} fontFamily={FONT}>{t}</text>
        </g>
      ))}
      {p.yTicks.map(t => (
        <g key={`y${t}`}>
          <line x1={L} x2={L + 27} y1={y(t)} y2={y(t)} stroke={AXB} strokeWidth={2} />
          <text x={L - 28} y={y(t)} dy="0.36em" textAnchor="end" fontSize={TICK_FS} fill={AXB} fontFamily={FONT}>{t}</text>
        </g>
      ))}
      <text transform={`translate(${p.ylabelX},${p.top + H / 2}) rotate(-90)`} textAnchor="middle" fill={AXB} fontFamily={FONT} fontSize={LABEL_FS}>
        <Rich segs={p.ylabel} fs={LABEL_FS} />
      </text>
      <text x={(L + R) / 2} y={bottom + p.xlabelDy} textAnchor="middle" fill={AXD} fontFamily={FONT} fontSize={LABEL_FS}>
        <Rich segs={p.xlabel} fs={LABEL_FS} />
      </text>
      {(p.shade || []).map((s, i) => (
        <rect key={i} x={x(s[0])} y={p.top} width={x(s[1]) - x(s[0])} height={H} fill="#FFFF00" fillOpacity={0.157} />
      ))}
      {p.legend.map((r, i) => (
        <g key={i}>
          <line x1={p.legX[0]} x2={p.legX[1]} y1={r.y} y2={r.y} stroke={r.color} strokeWidth={r.width} />
          <text x={p.legX[2]} y={r.y + 13} fontFamily={FONT} fontSize={LEG_FS} fill="#000">
            <Rich segs={r.segs} fs={LEG_FS} />
          </text>
        </g>
      ))}
    </g>
  );
}

const cm1: Seg[] = [{ t: ' cm' }, { t: '-1', sup: true }];
const utcLabel: Seg[] = [{ t: 'UTC hours on 20240707' }];
const wnLabel: Seg[] = [{ t: 'Wavenumber, cm' }, { t: '-1', sup: true }];
const radLabel: Seg[] = [{ t: 'Mean Radiance, mW/(m' }, { t: '2', sup: true }, { t: ' sr cm' }, { t: '-1', sup: true }, { t: ')' }];
const btLabel: Seg[] = [{ t: 'Zenith BTs, K' }];

export default function App() {
  const tops = [295.6, 1420.5, 2545.5, 3670.5, 4795.5];
  return (
    <div style={{ width: 3825, height: 6000, margin: '-8px', overflow: 'hidden', background: '#fff' }}>
      <svg width={3825} height={6000} style={{ display: 'block' }}>
        <rect x={0} y={0} width={3825} height={6000} fill="#fff" />
        <Panel
          id="p1" top={tops[0]} xDomain={[0, 24]} yDomain={[137.9, 291.5]} xTicks={hourTicks} yTicks={btTicks1}
          series={[
            { data: brown85, color: '#A52A2A', width: 6 },
            { data: orange95, color: '#FFA500', width: 6 },
            { data: green125, color: '#008000', width: 6 },
            { data: blueWindow, color: '#0000FF', width: 6 },
          ]}
          ylabel={[{ t: 'AERI 985-900 cm' }, { t: '-1', sup: true }, { t: ' (Window) BT' }]} ylabelX={238}
          xlabel={utcLabel} xlabelDy={133} shade={nightHours}
          legX={[2276, 2510, 2536]}
          legend={[
            { y: 422, color: '#A52A2A', width: 8, segs: [{ t: '85' }, { t: 'o', sup: true }, { t: ' WRT Nadir' }] },
            { y: 489, color: '#FFA500', width: 8, segs: [{ t: '95' }, { t: 'o', sup: true }, { t: ' WRT Nadir' }] },
            { y: 557, color: '#008000', width: 8, segs: [{ t: '125' }, { t: 'o', sup: true }, { t: ' WRT Nadir' }] },
            { y: 624, color: '#0000FF', width: 8, segs: [{ t: '180' }, { t: 'o', sup: true }, { t: ' WRT Nadir' }] },
          ]}
        />
        <Panel
          id="p2" top={tops[1]} xDomain={[0, 24]} yDomain={[135.6, 338]} xTicks={hourTicks} yTicks={btTicks2}
          series={[
            { data: blueWindow, color: '#0000FF', width: 5.5 },
            { data: lightWindow, color: '#ADD8E6', width: 3.5 },
          ]}
          markers={[{ data: lightWindowMarker, color: '#ADD8E6' }]}
          ylabel={btLabel} ylabelX={238} xlabel={utcLabel} xlabelDy={133} shade={nightHours}
          legX={[594, 829, 854]}
          legend={[
            { y: 1506, color: '#0000FF', width: 7, segs: [{ t: 'AERI 985-900' }, ...cm1, { t: ' (Window)' }] },
            { y: 1571, color: '#ADD8E6', width: 3.5, segs: [{ t: 'AERI 2510-2515' }, ...cm1, { t: ' (Window)' }] },
          ]}
        />
        <Panel
          id="p3" top={tops[2]} xDomain={[0, 24]} yDomain={[213.5, 310.8]} xTicks={hourTicks} yTicks={btTicks3}
          series={[
            { data: orange675, color: '#FFA500', width: 5 },
            { data: blue700, color: '#0000FF', width: 5 },
            { data: brown2295, color: '#A52A2A', width: 2.5 },
            { data: light2282, color: '#ADD8E6', width: 3 },
          ]}
          ylabel={btLabel} ylabelX={238} xlabel={utcLabel} xlabelDy={133} shade={nightHours}
          legX={[594, 829, 854]}
          legend={[
            { y: 3125, color: '#FFA500', width: 7, segs: [{ t: 'AERI 675-680' }, ...cm1, { t: ' (Surf Air)' }] },
            { y: 3192, color: '#0000FF', width: 7, segs: [{ t: 'AERI 700-705' }, ...cm1] },
            { y: 3260, color: '#A52A2A', width: 3.5, segs: [{ t: 'AERI 2295-2300' }, ...cm1, { t: ' (Surf Air)' }] },
            { y: 3327, color: '#ADD8E6', width: 3.5, segs: [{ t: 'AERI 2282-2287' }, ...cm1] },
          ]}
        />
        <Panel
          id="p4" top={tops[3]} xDomain={[520, 1800]} yDomain={[-0.56, 137.2]} xTicks={wnTicksLW} yTicks={radTicksLW}
          series={[
            { data: meanLW, color: '#000000', width: 4 },
            { data: cloudyLW, color: '#FF0000', width: 4 },
          ]}
          ylabel={radLabel} ylabelX={238} xlabel={wnLabel} xlabelDy={139}
          legX={[1831, 2066, 2088]}
          legend={[
            { y: 3737, color: '#000000', width: 3.5, segs: [{ t: 'Mean Radiance 0 to 24h UTC 20240707' }] },
            { y: 3794, color: '#FF0000', width: 3.5, segs: [{ t: '... cloudy' }] },
          ]}
        />
        <Panel
          id="p5" top={tops[4]} xDomain={[1800, 3021]} yDomain={[-0.374, 8.7]} xTicks={wnTicksSW} yTicks={radTicksSW}
          series={[
            { data: meanSW, color: '#000000', width: 4 },
            { data: cloudySW, color: '#FF0000', width: 4 },
          ]}
          ylabel={radLabel} ylabelX={283} xlabel={wnLabel} xlabelDy={139}
          legX={[1831, 2066, 2088]}
          legend={[
            { y: 4862, color: '#000000', width: 3.5, segs: [{ t: 'Mean Radiance 0 to 24h UTC 20240707' }] },
            { y: 4919, color: '#FF0000', width: 3.5, segs: [{ t: '... cloudy' }] },
          ]}
        />
      </svg>
    </div>
  );
}
